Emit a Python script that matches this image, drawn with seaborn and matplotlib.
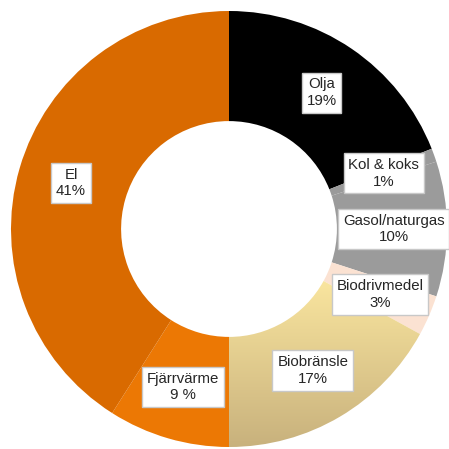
import numpy as np
import matplotlib
matplotlib.use("Agg")
import matplotlib.pyplot as plt
from matplotlib.colors import LinearSegmentedColormap
import seaborn as sns

# Data
categories = ["Olja", "Kol & koks", "Gasol/naturgas", "Biodrivmedel",
              "Biobränsle", "Fjärrvärme", "El"]
shares = [19, 1, 10, 3, 17, 9, 41]
pct_labels = ["19%", "1%", "10%", "3%", "17%", "9 %", "41%"]
colors = ["#000000", "#9a9a9a", "#9b9b9b", "#fbe2d2",
          "#efd88f", "#ec7804", "#d96a00"]

sns.set_theme(style="white")
plt.rcParams["font.family"] = ["Liberation Sans", "DejaVu Sans"]

fig = plt.figure(figsize=(4.49, 4.49), dpi=100)
ax = fig.add_axes([0, 0, 1, 1])

wedges, _ = ax.pie(shares, colors=colors, startangle=90, counterclock=False,
                   radius=1.0, wedgeprops=dict(width=0.505, linewidth=0))

# gradient fill for Biobränsle
bio = wedges[categories.index("Biobränsle")]
bio.set_facecolor("none")
grad_cmap = LinearSegmentedColormap.from_list("bio", ["#c7b07c", "#fde9a1"])
grad = np.linspace(0, 1, 256).reshape(-1, 1)
im = ax.imshow(grad, cmap=grad_cmap, origin="lower", aspect="auto",
               extent=[-0.05, 1.05, -1.02, -0.18], zorder=1)
im.set_clip_path(bio)

# labels at wedge midpoints
for w, name, pct in zip(wedges, categories, pct_labels):
    mid = np.deg2rad((w.theta1 + w.theta2) / 2)
    r = 0.755
    ax.text(r * np.cos(mid), r * np.sin(mid), f"{name}\n{pct}",
            ha="center", va="center", fontsize=10.8, color="#262626",
            linespacing=1.25, zorder=5,
            bbox=dict(boxstyle="square,pad=0.32", facecolor="white",
                      edgecolor="#c8c8c8", linewidth=1))

ax.set_xlim(-229 / 218, 220 / 218)
ax.set_ylim(-220 / 218, 229 / 218)
ax.set_aspect("auto")
ax.axis("off")

fig.savefig("out.png", dpi=100, facecolor="white")
